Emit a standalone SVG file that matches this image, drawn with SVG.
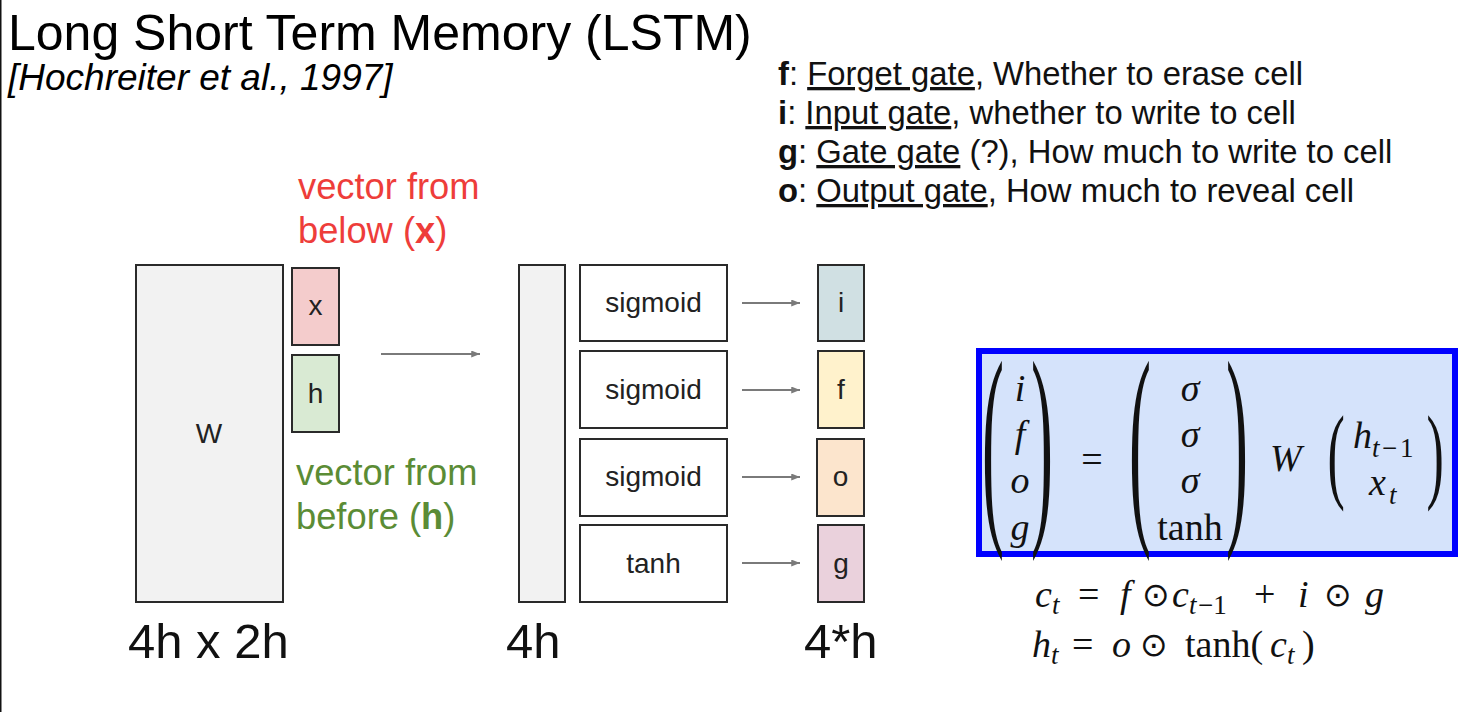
<svg xmlns="http://www.w3.org/2000/svg" width="1458" height="712" viewBox="0 0 1458 712">
<defs>
<marker id="arr" viewBox="0 0 10 8" refX="10" refY="4" markerWidth="9" markerHeight="7" orient="auto" markerUnits="userSpaceOnUse">
<path d="M0,0 L10,4 L0,8 z" fill="#7a7a7a"/>
</marker>
<style>
.sans{font-family:"Liberation Sans",Arial,sans-serif;}
.box{stroke:#2a2a2a;stroke-width:2;}
.lbl{font-family:"Liberation Sans",Arial,sans-serif;font-size:28px;fill:#222;text-anchor:middle;}
.big{font-family:"Liberation Sans",Arial,sans-serif;font-size:49px;fill:#111;}
.leg{font-family:"Liberation Sans",Arial,sans-serif;font-size:32.8px;fill:#111;}
.u{text-decoration:underline;}
.conn{stroke:#7a7a7a;stroke-width:2;fill:none;marker-end:url(#arr);}
.m{font-family:"Liberation Serif","Times New Roman",serif;font-size:38px;fill:#111;}
.mi{font-family:"Liberation Serif","Times New Roman",serif;font-size:38px;font-style:italic;fill:#111;}
.ms{font-family:"Liberation Serif","Times New Roman",serif;font-size:27px;fill:#111;}
.op{font-family:"DejaVu Sans","Liberation Serif",serif;font-size:33px;fill:#111;}
.paren{font-family:"Liberation Serif","Times New Roman",serif;fill:#111;}
</style>
</defs>
<rect x="0" y="0" width="1458" height="712" fill="#ffffff"/>
<rect x="0" y="0" width="1.5" height="712" fill="#111"/>

<g id="title">
<text x="8" y="50" class="sans" font-size="50" fill="#000">Long Short Term Memory (LSTM)</text>
<text x="8" y="90" class="sans" font-size="37" font-style="italic" fill="#000">[Hochreiter et al., 1997]</text>
</g>

<g id="legend">
<text x="778" y="85" class="leg"><tspan font-weight="bold">f</tspan>: <tspan class="u">Forget gate</tspan>, Whether to erase cell</text>
<text x="778" y="124" class="leg"><tspan font-weight="bold">i</tspan>: <tspan class="u">Input gate</tspan>, whether to write to cell</text>
<text x="778" y="163" class="leg"><tspan font-weight="bold">g</tspan>: <tspan class="u">Gate gate</tspan> (?), How much to write to cell</text>
<text x="778" y="202" class="leg"><tspan font-weight="bold">o</tspan>: <tspan class="u">Output gate</tspan>, How much to reveal cell</text>
</g>

<g id="label-x">
<text x="298" y="199" class="sans" font-size="36.3" fill="#ee3d3a">vector from</text>
<text x="298" y="243" class="sans" font-size="36.3" fill="#ee3d3a">below (<tspan font-weight="bold">x</tspan>)</text>
</g>
<g id="label-h">
<text x="296" y="485" class="sans" font-size="36.3" fill="#5b8c35">vector from</text>
<text x="296" y="529" class="sans" font-size="36.3" fill="#5b8c35">before (<tspan font-weight="bold">h</tspan>)</text>
</g>

<g id="node-W">
<rect x="136" y="265" width="147" height="337" fill="#f2f2f2" class="box"/>
<text x="209" y="443" class="lbl">W</text>
</g>
<g id="node-x">
<rect x="292" y="268" width="47" height="77" fill="#f4cccc" class="box"/>
<text x="315.5" y="315" class="lbl">x</text>
</g>
<g id="node-h">
<rect x="292" y="355" width="47" height="77" fill="#d9ead3" class="box"/>
<text x="315.5" y="403" class="lbl">h</text>
</g>
<g id="node-4h">
<rect x="519" y="265" width="46" height="337" fill="#f2f2f2" class="box"/>
</g>

<g id="node-sig1">
<rect x="580" y="265" width="147" height="76" fill="#fff" class="box"/>
<text x="653.5" y="312" class="lbl">sigmoid</text>
</g>
<g id="node-sig2">
<rect x="580" y="351" width="147" height="77" fill="#fff" class="box"/>
<text x="653.5" y="399" class="lbl">sigmoid</text>
</g>
<g id="node-sig3">
<rect x="580" y="439" width="147" height="77" fill="#fff" class="box"/>
<text x="653.5" y="486" class="lbl">sigmoid</text>
</g>
<g id="node-tanh">
<rect x="580" y="525" width="147" height="77" fill="#fff" class="box"/>
<text x="653.5" y="573" class="lbl">tanh</text>
</g>

<g id="node-i">
<rect x="818" y="265" width="46" height="76" fill="#d0e0e3" class="box"/>
<text x="841" y="312" class="lbl">i</text>
</g>
<g id="node-f">
<rect x="818" y="351" width="46" height="77" fill="#fff2cc" class="box"/>
<text x="841" y="399" class="lbl">f</text>
</g>
<g id="node-o">
<rect x="817" y="439" width="47" height="77" fill="#fce5cd" class="box"/>
<text x="840.5" y="486" class="lbl">o</text>
</g>
<g id="node-g">
<rect x="818" y="525" width="46" height="77" fill="#ead1dc" class="box"/>
<text x="841" y="573" class="lbl">g</text>
</g>

<g id="connectors">
<line x1="381" y1="354" x2="480" y2="354" class="conn"/>
<line x1="742" y1="303" x2="800" y2="303" class="conn"/>
<line x1="742" y1="390" x2="800" y2="390" class="conn"/>
<line x1="742" y1="477" x2="800" y2="477" class="conn"/>
<line x1="742" y1="563" x2="800" y2="563" class="conn"/>
</g>

<g id="dims">
<text x="128" y="658" class="big">4h x 2h</text>
<text x="506" y="658" class="big">4h</text>
<text x="804" y="658" class="big">4*h</text>
</g>

<g id="gate-equation">
<rect x="979" y="351" width="476" height="203" fill="#d5e3fb" stroke="#0000ff" stroke-width="6"/>
<text class="paren" font-size="66" transform="translate(982,514) scale(1,3.34)">(</text>
<text class="paren" font-size="66" transform="translate(1031,514) scale(1,3.34)">)</text>
<text class="mi" x="1020" y="401" text-anchor="middle">i</text>
<text class="mi" x="1020" y="447" text-anchor="middle">f</text>
<text class="mi" x="1020" y="493" text-anchor="middle">o</text>
<text class="mi" x="1020" y="540" text-anchor="middle">g</text>
<text class="m" x="1092" y="472" font-size="50" text-anchor="middle">=</text>
<text class="paren" font-size="66" transform="translate(1129,514) scale(1,3.34)">(</text>
<text class="paren" font-size="66" transform="translate(1226,514) scale(1,3.34)">)</text>
<text class="mi" x="1190" y="401" text-anchor="middle">σ</text>
<text class="mi" x="1190" y="447" text-anchor="middle">σ</text>
<text class="mi" x="1190" y="493" text-anchor="middle">σ</text>
<text class="m" x="1190" y="540" text-anchor="middle">tanh</text>
<text class="mi" x="1270" y="471" font-size="42">W</text>
<text class="paren" font-size="52" transform="translate(1327.5,489) scale(1,2.05)">(</text>
<text class="paren" font-size="52" transform="translate(1426.5,489) scale(1,2.05)">)</text>
<text class="mi" x="1353" y="448">h</text>
<text class="ms" x="1372" y="457" font-style="italic">t</text>
<text class="ms" x="1382" y="457">−</text>
<text class="ms" x="1400" y="457">1</text>
<text class="mi" x="1369" y="495">x</text>
<text class="ms" x="1389" y="504" font-style="italic">t</text>
</g>

<g id="cell-equations">
<text class="mi" x="1035" y="607">c</text>
<text class="ms" x="1052" y="614" font-style="italic">t</text>
<text class="m" x="1078" y="607" font-size="48">=</text>
<text class="mi" x="1120" y="607">f</text>
<text class="op" x="1142" y="606">⊙</text>
<text class="mi" x="1172" y="607">c</text>
<text class="ms" x="1189" y="614" font-style="italic">t</text>
<text class="ms" x="1198" y="614">−1</text>
<text class="m" x="1254" y="607" font-size="40">+</text>
<text class="mi" x="1298" y="607">i</text>
<text class="op" x="1324" y="606">⊙</text>
<text class="mi" x="1365" y="607">g</text>

<text class="mi" x="1032" y="657">h</text>
<text class="ms" x="1051" y="664" font-style="italic">t</text>
<text class="m" x="1072" y="657" font-size="48">=</text>
<text class="mi" x="1112" y="657">o</text>
<text class="op" x="1140" y="656">⊙</text>
<text class="m" x="1185" y="657">tanh(</text>
<text class="mi" x="1270" y="657">c</text>
<text class="ms" x="1287" y="664" font-style="italic">t</text>
<text class="m" x="1302" y="657">)</text>
</g>
</svg>
